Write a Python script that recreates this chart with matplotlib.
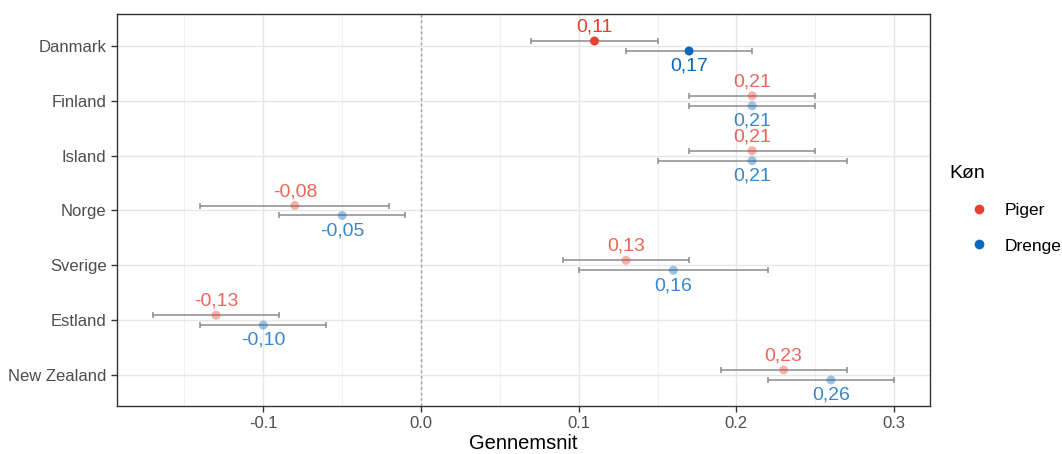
import matplotlib
matplotlib.use("Agg")
import matplotlib.pyplot as plt
from matplotlib.lines import Line2D

plt.rcParams['font.family'] = ['Liberation Sans', 'DejaVu Sans']

# data
countries = ['Danmark', 'Finland', 'Island', 'Norge', 'Sverige', 'Estland', 'New Zealand']
piger_mean = [0.11, 0.21, 0.21, -0.08, 0.13, -0.13, 0.23]
piger_low = [0.07, 0.17, 0.17, -0.14, 0.09, -0.17, 0.19]
piger_high = [0.15, 0.25, 0.25, -0.02, 0.17, -0.09, 0.27]
drenge_mean = [0.17, 0.21, 0.21, -0.05, 0.16, -0.10, 0.26]
drenge_low = [0.13, 0.17, 0.15, -0.09, 0.10, -0.14, 0.22]
drenge_high = [0.21, 0.25, 0.27, -0.01, 0.22, -0.06, 0.30]
highlight = 'Danmark'
x_ticks = [-0.1, 0.0, 0.1, 0.2, 0.3]

RED = '#E8402F'
BLUE = '#0B68BC'
DODGE = 0.091


def fmt(v):
    return f'{v:.2f}'.replace('.', ',')


fig = plt.figure(figsize=(10.62, 4.54), dpi=100)
ax = fig.add_axes([117 / 1062, 48 / 454, (930 - 117) / 1062, (406 - 14) / 454])

# (name, values, low, high, colour, dodge, label offset in points; y axis is inverted)
series = [
    ('Piger', piger_mean, piger_low, piger_high, RED, -DODGE, 10),
    ('Drenge', drenge_mean, drenge_low, drenge_high, BLUE, DODGE, -11),
]
for name, mean, low, high, col, off, txt_off in series:
    for i, c in enumerate(countries):
        y = i + off
        strong = c == highlight
        ax.errorbar(mean[i], y, xerr=[[mean[i] - low[i]], [high[i] - mean[i]]],
                    fmt='none', ecolor='#8c8c8c', elinewidth=1.1, capsize=2.5,
                    capthick=1.1, zorder=2)
        ax.scatter(mean[i], y, s=42, color=col, alpha=1.0 if strong else 0.4,
                   edgecolors='none', zorder=3)
        ax.annotate(fmt(mean[i]), (mean[i], y), xytext=(0, txt_off),
                    textcoords='offset points', ha='center', va='center',
                    fontsize=14, color=col, alpha=1.0 if strong else 0.8)

ax.axvline(0, color='#a0a0a0', linestyle=(0, (2, 2)), linewidth=1, zorder=1)

ax.set_xlim(-0.1928, 0.3228)
ax.set_ylim(6.566, -0.584)
ax.set_xticks(x_ticks)
ax.set_xticklabels([f'{t:.1f}' for t in x_ticks])
ax.set_xticks([-0.15, -0.05, 0.05, 0.15, 0.25], minor=True)
ax.set_yticks(range(len(countries)))
ax.set_yticklabels(countries)
ax.grid(which='major', color='#e6e6e6', linewidth=1.0, zorder=0)
ax.grid(which='minor', axis='x', color='#f1f1f1', linewidth=0.8, zorder=0)
ax.set_axisbelow(True)
ax.tick_params(axis='both', which='major', labelsize=12, labelcolor='#4d4d4d',
               color='#333333', length=4, width=1)
ax.tick_params(which='minor', length=0)
for s in ax.spines.values():
    s.set_color('#333333')
    s.set_linewidth(1.0)
ax.set_xlabel('Gennemsnit', fontsize=14.5, labelpad=2)

# legend: title placed separately so the keys can sit indented like ggplot's
fig.text(949 / 1062, 1 - 173 / 454, 'Køn', fontsize=14, ha='left', va='center')
handles = [Line2D([], [], marker='o', linestyle='none', color=RED, markersize=7,
                  markeredgewidth=0),
           Line2D([], [], marker='o', linestyle='none', color=BLUE, markersize=7,
                  markeredgewidth=0)]
leg = fig.legend(handles, ['Piger', 'Drenge'], loc='center left',
                 bbox_to_anchor=(955 / 1062, 1 - 228 / 454), frameon=False,
                 fontsize=12.5, labelspacing=1.2, borderaxespad=0, borderpad=0.9,
                 handlelength=1.0, handletextpad=0.95)

fig.savefig('out.png', dpi=100)
